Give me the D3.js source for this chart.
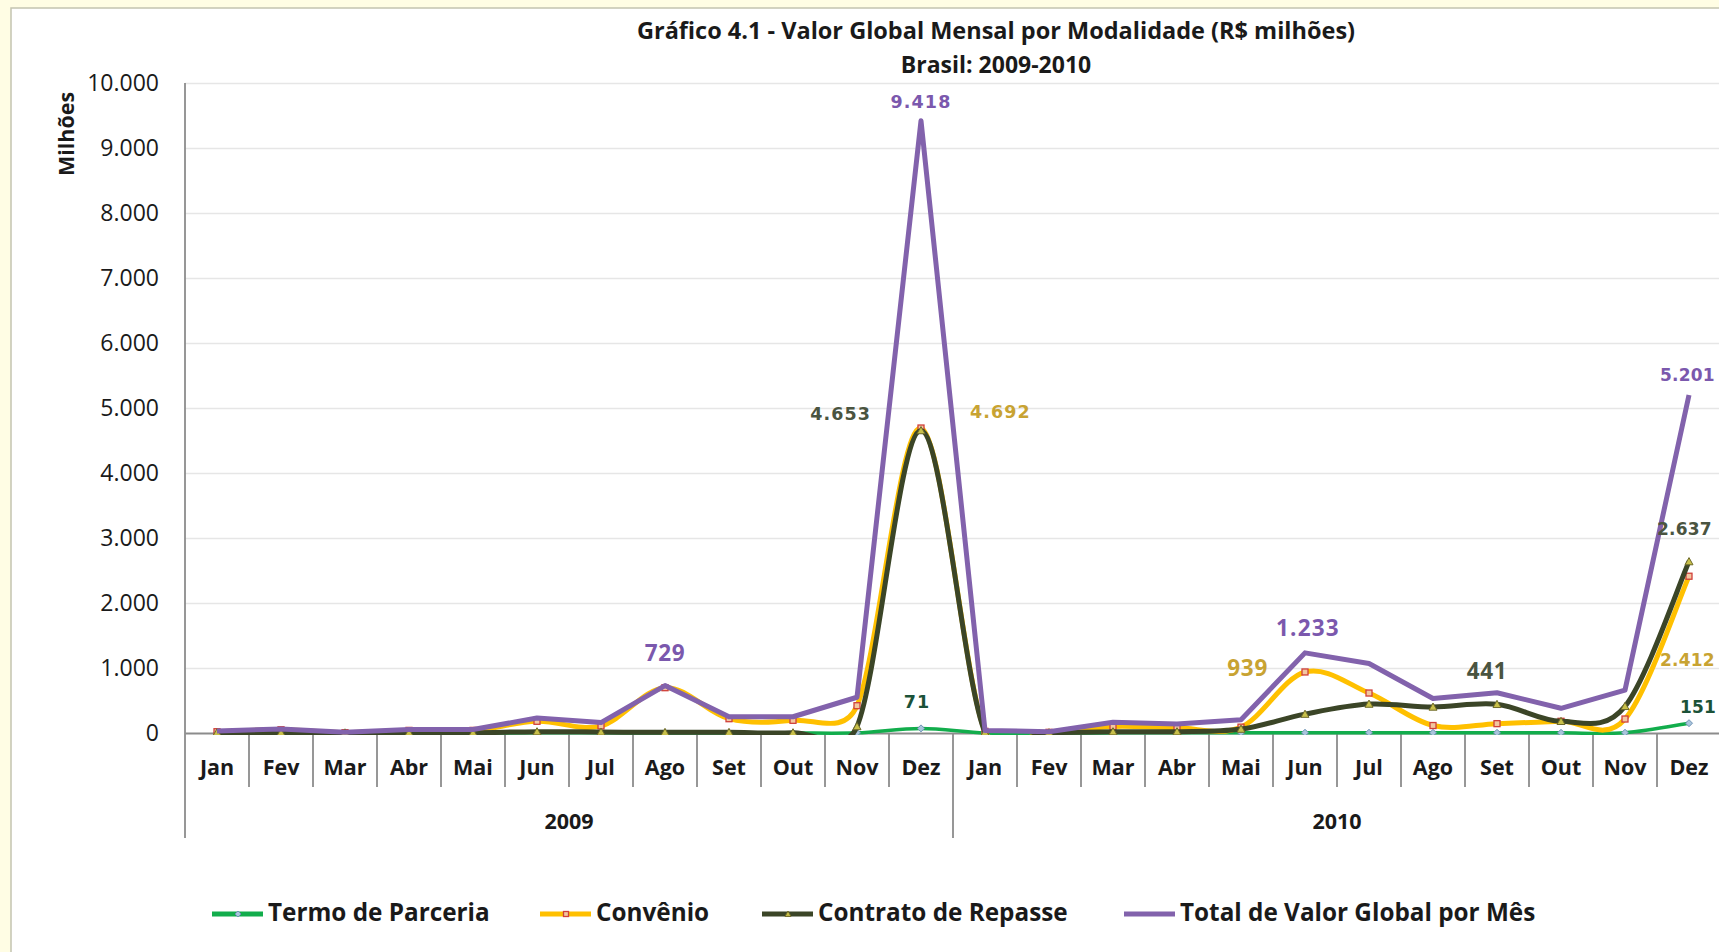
<!DOCTYPE html>
<html><head><meta charset="utf-8">
<script src="https://cdn.jsdelivr.net/npm/d3@7"></script>
<style>
html,body{margin:0;padding:0;background:#fffde4;overflow:hidden}
svg{display:block}
</style></head><body>
<script>
// ---------- DATA ----------
const months = ["Jan","Fev","Mar","Abr","Mai","Jun","Jul","Ago","Set","Out","Nov","Dez",
                "Jan","Fev","Mar","Abr","Mai","Jun","Jul","Ago","Set","Out","Nov","Dez"];
const years = ["2009","2010"];
const yTickValues = [0,1000,2000,3000,4000,5000,6000,7000,8000,9000,10000];
const yTickLabels = ["0","1.000","2.000","3.000","4.000","5.000","6.000","7.000","8.000","9.000","10.000"];
const seriesNames = ["Termo de Parceria","Convênio","Contrato de Repasse","Total de Valor Global por Mês"];
const termo    = [0,0,0,0,0,2,2,1,1,1,3,71,        1,0,2,2,3,4,4,3,3,3,4,151];
const convenio = [20,50,5,40,40,180,110,697,220,195,420,4692,   25,10,100,80,90,939,615,115,144,180,215,2412];
const contrato = [5,5,3,5,5,20,15,10,10,5,100,4653,  8,5,20,20,60,290,445,400,441,180,410,2637];
const total    = [30,62,10,52,55,230,160,729,250,250,550,9418,  40,20,165,140,205,1233,1070,530,620,380,660,5201];
const labelText = {total:["729","9.418","1.233","5.201"], contrato:["4.653","441","2.637"], convenio:["4.692","939","2.412"], termo:["71","151"]};
const labelIdx  = {total:[7,11,17,23], contrato:[11,20,23], convenio:[11,17,23], termo:[11,23]};

(function(){
// ---------- SETUP ----------
const W = 1719, H = 952;
const svg = d3.select("body").append("svg").attr("width", W).attr("height", H);
svg.append("rect").attr("width", W).attr("height", H).attr("fill", "#fffde4");
svg.append("rect").attr("x", 11).attr("y", 8).attr("width", W + 20).attr("height", H + 20)
   .attr("fill", "#ffffff").attr("stroke", "#c4c4b0").attr("stroke-width", 1.5);

const narrow = "'Open Sans', 'DejaVu Sans', sans-serif";
const wide = "'DejaVu Sans', Verdana, sans-serif";

const pLeft = 185, pRight = 1721, pTop = 83, pBottom = 733;
const x = d3.scaleBand().domain(d3.range(24)).range([pLeft, pRight]).padding(0);
const cx = i => x(i) + x.bandwidth() / 2;
const y = d3.scaleLinear().domain([0, 10000]).range([pBottom, pTop]);

svg.append("defs").append("clipPath").attr("id", "plotClip").append("rect")
  .attr("x", pLeft).attr("y", 0).attr("width", pRight - pLeft + 10).attr("height", pBottom + 2);

// title
svg.append("text").attr("x", 996).attr("y", 33).attr("text-anchor", "middle").attr("dominant-baseline", "middle")
   .attr("font-family", narrow).attr("font-weight", 700).attr("font-size", 23.5).attr("fill", "#1a1a1a")
   .text("Gráfico 4.1 - Valor Global Mensal por Modalidade (R$ milhões)");
svg.append("text").attr("x", 996).attr("y", 67).attr("text-anchor", "middle").attr("dominant-baseline", "middle")
   .attr("font-family", narrow).attr("font-weight", 700).attr("font-size", 23).attr("fill", "#1a1a1a")
   .text("Brasil: 2009-2010");

// gridlines
const grid = svg.append("g").attr("transform", `translate(${pLeft},0)`)
  .call(d3.axisLeft(y).tickValues(yTickValues.slice(1)).tickSize(-(pRight - pLeft)).tickFormat(""));
grid.select(".domain").remove();
grid.selectAll("line").attr("stroke", "#e6e6e6").attr("stroke-width", 1.5);

// y axis
const yAxis = svg.append("g").attr("transform", `translate(${pLeft},0)`)
  .call(d3.axisLeft(y).tickValues(yTickValues).tickSize(0).tickPadding(26).tickFormat((d, i) => yTickLabels[i]));
yAxis.select(".domain").remove();
yAxis.selectAll("text").attr("font-family", narrow).attr("font-size", 23).attr("fill", "#1a1a1a");
svg.append("line").attr("x1", pLeft).attr("x2", pLeft).attr("y1", pTop).attr("y2", 838)
   .attr("stroke", "#8c8c8c").attr("stroke-width", 1.8);

svg.append("text").attr("transform", "translate(68,134) rotate(-90)").attr("text-anchor", "middle")
   .attr("dominant-baseline", "middle").attr("font-family", narrow).attr("font-weight", 700)
   .attr("font-size", 21.5).attr("fill", "#1a1a1a").text("Milhões");

// x axis
const xAxis = svg.append("g").attr("transform", `translate(0,${pBottom})`)
  .call(d3.axisBottom(x).tickSize(0).tickPadding(27).tickFormat(i => months[i]));
xAxis.select(".domain").attr("stroke", "#8c8c8c").attr("stroke-width", 1.8);
xAxis.selectAll("text").attr("font-family", narrow).attr("font-weight", 700).attr("font-size", 21.5).attr("fill", "#1a1a1a");
svg.append("g").selectAll("line").data(d3.range(1, 24)).join("line")
  .attr("x1", i => x(i)).attr("x2", i => x(i))
  .attr("y1", pBottom).attr("y2", i => i % 12 === 0 ? 838 : 787)
  .attr("stroke", "#8c8c8c").attr("stroke-width", 1.8);
svg.append("g").selectAll("text").data(years).join("text")
  .attr("x", (d, k) => (x(k * 12) + x(k * 12 + 11) + x.bandwidth()) / 2).attr("y", 823)
  .attr("text-anchor", "middle").attr("dominant-baseline", "middle")
  .attr("font-family", narrow).attr("font-weight", 700).attr("font-size", 21.5).attr("fill", "#1a1a1a")
  .text(d => d);

// ---------- SERIES ----------
// Excel-style smoothed line (Bezier with arms limited to half the segment length)
function excelSmooth(vals) {
  const pts = vals.map((v, i) => [cx(i), y(v)]);
  const n = pts.length, p = d3.path();
  const dist = (a, b) => Math.hypot(a[0] - b[0], a[1] - b[1]);
  p.moveTo(pts[0][0], pts[0][1]);
  for (let i = 0; i < n - 1; i++) {
    const P0 = pts[Math.max(i - 1, 0)], P1 = pts[i], P2 = pts[i + 1], P3 = pts[Math.min(i + 2, n - 1)];
    const d12 = dist(P1, P2), d02 = dist(P0, P2), d13 = dist(P1, P3);
    let f1 = 1 / 6, f2 = 1 / 6;
    if (d02 > 0 && d02 / 6 >= d12 / 2) f1 = d12 / (2 * d02);
    if (d13 > 0 && d13 / 6 >= d12 / 2) f2 = d12 / (2 * d13);
    p.bezierCurveTo(P1[0] + f1 * (P2[0] - P0[0]), P1[1] + f1 * (P2[1] - P0[1]),
                    P2[0] - f2 * (P3[0] - P1[0]), P2[1] - f2 * (P3[1] - P1[1]), P2[0], P2[1]);
  }
  return p.toString();
}
const straight = d3.line().x((d, i) => cx(i)).y(d => y(d));
const plot = svg.append("g").attr("clip-path", "url(#plotClip)");

function diamond(g, px, py, s, fill, stroke) {
  g.append("path").attr("d", `M${px},${py - s}L${px + s},${py}L${px},${py + s}L${px - s},${py}Z`)
    .attr("fill", fill).attr("stroke", stroke).attr("stroke-width", 1);
}
function square(g, px, py, s, fill, stroke) {
  g.append("rect").attr("x", px - s).attr("y", py - s).attr("width", 2 * s).attr("height", 2 * s)
    .attr("fill", fill).attr("stroke", stroke).attr("stroke-width", 1.3);
}
function triangle(g, px, py, s, fill, stroke) {
  g.append("path").attr("d", `M${px},${py - s}L${px + s},${py + s * 0.8}L${px - s},${py + s * 0.8}Z`)
    .attr("fill", fill).attr("stroke", stroke).attr("stroke-width", 1);
}

const cGreen = "#12ad4c", cYellow = "#ffc000", cOlive = "#3b4527", cPurple = "#8262ac";

plot.append("path").attr("d", excelSmooth(termo)).attr("fill", "none").attr("stroke", cGreen).attr("stroke-width", 3.5);
termo.forEach((v, i) => diamond(plot, cx(i), y(v), 3.5, "#a9c4dc", "#6f93b5"));
plot.append("path").attr("d", excelSmooth(convenio)).attr("fill", "none").attr("stroke", cYellow).attr("stroke-width", 5);
convenio.forEach((v, i) => square(plot, cx(i), y(v), 3, "#f2c7a0", "#d0403a"));
plot.append("path").attr("d", excelSmooth(contrato)).attr("fill", "none").attr("stroke", cOlive).attr("stroke-width", 5);
contrato.forEach((v, i) => triangle(plot, cx(i), y(v), 4, "#c8c04a", "#6e6a2a"));
plot.append("path").attr("d", straight(total)).attr("fill", "none").attr("stroke", cPurple).attr("stroke-width", 5)
  .attr("stroke-linejoin", "round");

// ---------- DATA LABELS ----------
const lab = svg.append("g");
function addLabel(txt, px, py, anchor, color, fam, size, ls) {
  lab.append("text").attr("x", px).attr("y", py).attr("text-anchor", anchor).attr("dominant-baseline", "middle")
    .attr("font-family", fam).attr("font-weight", 700).attr("font-size", size).attr("letter-spacing", ls)
    .attr("fill", color).text(txt);
}
const colPurple = "#7b58ad", colOlive = "#4a5440", colGold = "#c8a332", colTeal = "#1b5238";
addLabel(labelText.total[0], cx(labelIdx.total[0]), y(total[labelIdx.total[0]]) - 31, "middle", colPurple, narrow, 22.5, 0.7);
addLabel(labelText.total[1], cx(labelIdx.total[1]), y(total[labelIdx.total[1]]) - 18, "middle", colPurple, wide, 17.5, 1.1);
addLabel(labelText.total[2], cx(labelIdx.total[2]) + 3, y(total[labelIdx.total[2]]) - 23, "middle", colPurple, narrow, 22.5, 1.2);
addLabel(labelText.total[3], cx(labelIdx.total[3]) - 29, y(total[labelIdx.total[3]]) - 19, "start", colPurple, wide, 17, 0.2);
addLabel(labelText.contrato[0], cx(labelIdx.contrato[0]) - 50, y(contrato[labelIdx.contrato[0]]) - 16, "end", colOlive, wide, 17.5, 1.1);
addLabel(labelText.contrato[1], cx(labelIdx.contrato[1]) - 10, y(contrato[labelIdx.contrato[1]]) - 31, "middle", colOlive, narrow, 22.5, 0.7);
addLabel(labelText.contrato[2], cx(labelIdx.contrato[2]) - 32, y(contrato[labelIdx.contrato[2]]) - 32, "start", colOlive, wide, 17, 0.2);
addLabel(labelText.convenio[0], cx(labelIdx.convenio[0]) + 49, y(convenio[labelIdx.convenio[0]]) - 15, "start", colGold, wide, 17.5, 1.1);
addLabel(labelText.convenio[1], cx(labelIdx.convenio[1]) - 37, y(convenio[labelIdx.convenio[1]]) - 2, "end", colGold, narrow, 22.5, 0.7);
addLabel(labelText.convenio[2], cx(labelIdx.convenio[2]) - 29, y(convenio[labelIdx.convenio[2]]) + 85, "start", colGold, wide, 17, 0.2);
addLabel(labelText.termo[0], cx(labelIdx.termo[0]) - 4, y(termo[labelIdx.termo[0]]) - 25, "middle", colTeal, wide, 17.5, 1.1);
addLabel(labelText.termo[1], cx(labelIdx.termo[1]) - 9, y(termo[labelIdx.termo[1]]) - 15, "start", colTeal, wide, 17, 0.2);

// ---------- LEGEND ----------
const legX = [212, 540, 762, 1124];
const legColors = [cGreen, cYellow, cOlive, cPurple];
const leg = svg.append("g");
seriesNames.forEach((n, k) => {
  const lx = legX[k], ly = 914;
  leg.append("line").attr("x1", lx).attr("x2", lx + 51).attr("y1", ly).attr("y2", ly)
    .attr("stroke", legColors[k]).attr("stroke-width", 5);
  if (k === 0) diamond(leg, lx + 26, ly, 3, "#a9c4dc", "#6f93b5");
  if (k === 1) square(leg, lx + 26, ly, 2.5, "#f2c7a0", "#d0403a");
  if (k === 2) triangle(leg, lx + 26, ly, 3, "#c8c04a", "#6e6a2a");
  leg.append("text").attr("x", lx + 56).attr("y", ly).attr("dominant-baseline", "middle")
    .attr("font-family", narrow).attr("font-weight", 700).attr("font-size", 24.3).attr("fill", "#1a1a1a").text(n);
});
})();
</script>
</body></html>
